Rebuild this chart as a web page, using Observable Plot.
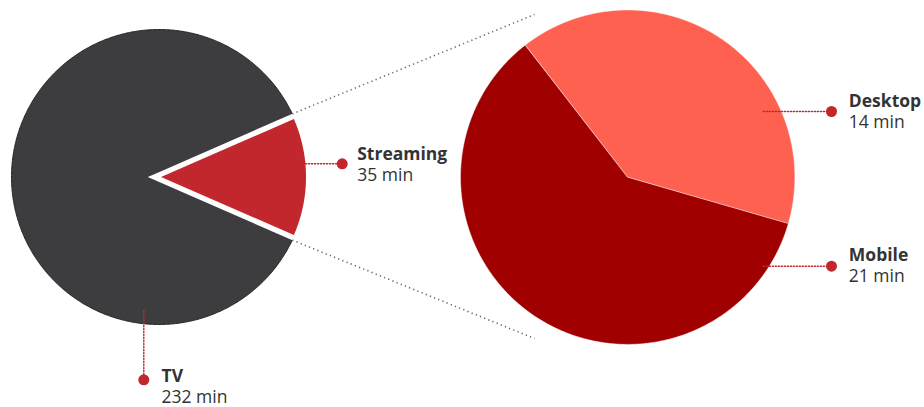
<!DOCTYPE html>
<html><head><meta charset="utf-8">
<script src="https://cdn.jsdelivr.net/npm/d3@7"></script>
<script src="https://cdn.jsdelivr.net/npm/@observablehq/plot@0.6"></script>
<style>
html,body{margin:0;padding:0;background:#fff;}
#chart svg{display:block;}
</style>
</head><body><div id="chart"></div>
<script>
// ---- data ----
const totalCategories = ["TV", "Streaming"];
const totalMinutes = [232, 35];
const streamingCategories = ["Desktop", "Mobile"];
const streamingMinutes = [14, 21];
const unitLabel = "min";

// ---- layout / style ----
const W = 924, H = 407;
const deg = Math.PI / 180;
const leftPie = {cx: 158.5, cy: 176.5, r: 147.5};
const rightPie = {cx: 627.2, cy: 176.7, r: 167.2};
const gapHalf = 4.5;          // white band on TV side of the wedge
const redExplode = 2, redR = 145;
const rightStart = -37.9 * deg;
const colors = {TV: "#3d3d3f", Streaming: "#c1272d", Desktop: "#ff6150", Mobile: "#a00000"};
const dotColor = "#c1272d";
const textColor = "#333333";
const labelLayout = {
  TV:        {lead: [[143.3, 310], [143.3, 379.3]], tx: 161,   ty: 381.7},
  Streaming: {lead: [[305, 163.3], [341.7, 163.3]], tx: 356.7, ty: 159.3},
  Desktop:   {lead: [[762.7, 111], [831, 111]],     tx: 848.3, ty: 106},
  Mobile:    {lead: [[762.7, 265.7], [831, 265.7]], tx: 848.3, ty: 260}
};
const zoomEnds = [[534, 14], [534, 338]];

// ---- geometry from data ----
function arcPoints(key, a0, a1, cx, cy, r) {
  const pts = [{key, x: cx, y: cy}];
  const n = Math.max(2, Math.ceil(Math.abs(a1 - a0) / (0.5 * deg)));
  for (let i = 0; i <= n; i++) {
    const a = a0 + (a1 - a0) * i / n;
    pts.push({key, x: cx + r * Math.sin(a), y: cy - r * Math.cos(a)});
  }
  return pts;
}

const totals = totalCategories.map((c, i) => ({category: c, minutes: totalMinutes[i]}));
const streams = streamingCategories.map((c, i) => ({category: c, minutes: streamingMinutes[i]}));
const sum = d3.sum(totalMinutes);
const streamAngle = 2 * Math.PI * totalMinutes[1] / sum;
const leftArcs = d3.pie().sort(null).value(d => d.minutes)
  .startAngle(Math.PI / 2 + streamAngle / 2).endAngle(Math.PI / 2 + streamAngle / 2 + 2 * Math.PI)(totals);
const rightArcs = d3.pie().sort(null).value(d => d.minutes)
  .startAngle(rightStart).endAngle(rightStart + 2 * Math.PI)(streams);

const tvArc = leftArcs.find(a => a.data.category === "TV");
const stArc = leftArcs.find(a => a.data.category === "Streaming");
const {cx, cy, r} = leftPie;

const tvPts = arcPoints("TV", tvArc.startAngle, tvArc.endAngle, cx, cy, r);
const tvOutline = tvPts.slice(1);
const gapPts = arcPoints("gap", stArc.startAngle, stArc.endAngle, cx, cy, r + 5);
const midS = (stArc.startAngle + stArc.endAngle) / 2;
const stPts = arcPoints("Streaming", stArc.startAngle, stArc.endAngle,
  cx + redExplode * Math.sin(midS), cy - redExplode * Math.cos(midS), redR);

const rightPts = rightArcs.flatMap(a =>
  arcPoints(a.data.category, a.startAngle, a.endAngle, rightPie.cx, rightPie.cy, rightPie.r));

// zoom lines from visible TV corners
const dA = Math.asin(gapHalf / r);
const cornerAngles = [stArc.startAngle - dA, stArc.endAngle + dA];
const zoomLines = cornerAngles.flatMap((a, i) => [
  {k: i, x: cx + r * Math.sin(a), y: cy - r * Math.cos(a)},
  {k: i, x: zoomEnds[i][0], y: zoomEnds[i][1]}
]);

const allCats = [...totals, ...streams];
const leaders = allCats.flatMap(d => labelLayout[d.category].lead.map(([x, y]) => ({k: d.category, x, y})));
const labels = allCats.map(d => ({
  name: d.category,
  value: `${d.minutes} ${unitLabel}`,
  x: labelLayout[d.category].tx,
  y: labelLayout[d.category].ty,
  dotX: labelLayout[d.category].lead[1][0],
  dotY: labelLayout[d.category].lead[1][1]
}));
const fs = 17.5;

const chart = Plot.plot({
  width: W, height: H, margin: 0,
  x: {domain: [0, W], range: [0, W], axis: null},
  y: {domain: [0, H], range: [0, H], axis: null},
  style: {fontFamily: "'Open Sans', sans-serif", background: "#fff"},
  marks: [
    Plot.line(tvPts, {x: "x", y: "y", fill: colors.TV, stroke: "none", curve: "linear-closed"}),
    Plot.line(tvOutline, {x: "x", y: "y", stroke: "#1c2626", strokeWidth: 1}),
    Plot.line(gapPts, {x: "x", y: "y", fill: "#fff", stroke: "#fff", strokeWidth: gapHalf * 2, strokeLinejoin: "miter", strokeMiterlimit: 10, curve: "linear-closed"}),
    Plot.line(stPts, {x: "x", y: "y", fill: colors.Streaming, stroke: "none", curve: "linear-closed"}),
    Plot.line(rightPts, {x: "x", y: "y", z: "key", fill: d => colors[d.key], stroke: "#ffffff", strokeWidth: 0.6, strokeOpacity: 0.8, curve: "linear-closed"}),
    Plot.line(zoomLines, {x: "x", y: "y", z: "k", stroke: "#666", strokeWidth: 1.6, strokeDasharray: "1.2,3.3", strokeLinecap: "butt"}),
    Plot.line(leaders, {x: "x", y: "y", z: "k", stroke: dotColor, strokeWidth: 1.4, strokeDasharray: "1.2,1.8"}),
    Plot.dot(labels, {x: "dotX", y: "dotY", r: 5.5, fill: dotColor, stroke: "none"}),
    Plot.text(labels, {x: "x", y: d => d.y - 0.32 * fs, text: "name", textAnchor: "start", fontSize: fs, fontWeight: 700, fill: textColor}),
    Plot.text(labels, {x: "x", y: d => d.y + 21 - 0.32 * fs, text: "value", textAnchor: "start", fontSize: fs, fill: textColor})
  ]
});
document.getElementById("chart").appendChild(chart);
</script>
</body></html>
